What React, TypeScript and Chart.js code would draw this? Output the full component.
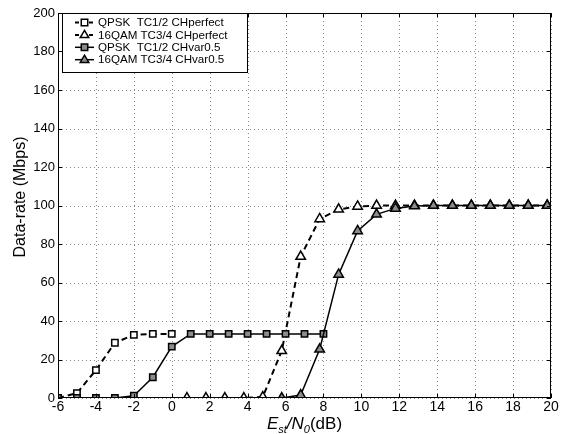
import React, { useEffect, useRef } from "react";
import { Chart, registerables } from "chart.js";

Chart.register(...registerables);

// ---- data ----
const qpskPerfX = [-6, -5, -4, -3, -2, -1, 0];
const qpskPerfY = [0, 2.5, 14.5, 28.7, 32.8, 33.3, 33.3];

const qam16PerfX = [0.8, 1.8, 2.8, 3.8, 4.8, 5.8, 6.8, 7.8, 8.8, 9.8, 10.8, 11.8, 12.8, 13.8, 14.8, 15.8, 16.8, 17.8, 18.8, 19.8];
const qam16PerfY = [0, 0, 0, 0, 0.5, 24.5, 73.5, 93, 98, 99.5, 100, 100, 100, 100, 100, 100, 100, 100, 100, 100];

const qpskVarX = [-6, -5, -4, -3, -2, -1, 0, 1, 2, 3, 4, 5, 6, 7, 8];
const qpskVarY = [0, 0, 0, 0, 1.2, 10.8, 26.7, 33.3, 33.3, 33.3, 33.3, 33.3, 33.3, 33.3, 33.3];

const qam16VarX = [5.8, 6.8, 7.8, 8.8, 9.8, 10.8, 11.8, 12.8, 13.8, 14.8, 15.8, 16.8, 17.8, 18.8, 19.8];
const qam16VarY = [0, 1.5, 25.3, 64.2, 86.8, 95.4, 98.5, 99.7, 100, 100, 100, 100, 100, 100, 100];

const seriesNames = [
  "QPSK  TC1/2 CHperfect",
  "16QAM TC3/4 CHperfect",
  "QPSK  TC1/2 CHvar0.5",
  "16QAM TC3/4 CHvar0.5",
];

const xTicks = [-6, -4, -2, 0, 2, 4, 6, 8, 10, 12, 14, 16, 18, 20];
const yTicks = [0, 20, 40, 60, 80, 100, 120, 140, 160, 180, 200];

const FONT = "'Liberation Sans', Arial, sans-serif";
const GRAY = "#8c8c8c";

const zip = (xs: number[], ys: number[]) => xs.map((x, i) => ({ x, y: ys[i] }));

const styles = [
  { dash: [6, 4], width: 2, marker: "rect", fill: "#ffffff", radius: 4.5 },
  { dash: [6, 4], width: 2, marker: "triangle", fill: "#ffffff", radius: 5.5 },
  { dash: [], width: 1.5, marker: "rect", fill: GRAY, radius: 4.5 },
  { dash: [], width: 1.5, marker: "triangle", fill: GRAY, radius: 5.5 },
];

function drawMarker(ctx: CanvasRenderingContext2D, type: string, x: number, y: number, r: number, fill: string) {
  ctx.save();
  ctx.setLineDash([]);
  ctx.lineWidth = 1.5;
  ctx.strokeStyle = "#000";
  ctx.fillStyle = fill;
  ctx.beginPath();
  if (type === "rect") {
    const s = r * 0.9;
    ctx.rect(x - s, y - s, 2 * s, 2 * s);
  } else {
    ctx.moveTo(x, y - r);
    ctx.lineTo(x + r * 0.95, y + r * 0.6);
    ctx.lineTo(x - r * 0.95, y + r * 0.6);
    ctx.closePath();
  }
  ctx.fill();
  ctx.stroke();
  ctx.restore();
}

const gridPlugin = {
  id: "dottedGrid",
  beforeDatasetsDraw(chart: any) {
    const { ctx, chartArea } = chart;
    const { left, right, top, bottom } = chartArea;
    const xs = chart.scales.x;
    const ys = chart.scales.y;
    ctx.save();
    ctx.strokeStyle = "#888";
    ctx.lineWidth = 1;
    ctx.setLineDash([1, 3]);
    ctx.beginPath();
    xTicks.forEach((t) => {
      const px = Math.round(xs.getPixelForValue(t)) + 0.5;
      ctx.moveTo(px, top);
      ctx.lineTo(px, bottom);
    });
    yTicks.forEach((t) => {
      const py = Math.round(ys.getPixelForValue(t)) + 0.5;
      ctx.moveTo(left, py);
      ctx.lineTo(right, py);
    });
    ctx.stroke();
    ctx.restore();
  },
};

const framePlugin = {
  id: "frameAndExtras",
  afterDraw(chart: any) {
    const { ctx, chartArea } = chart;
    const { left, right, top, bottom } = chartArea;
    const xs = chart.scales.x;
    const ys = chart.scales.y;
    ctx.save();
    ctx.setLineDash([]);
    ctx.strokeStyle = "#000";
    ctx.lineWidth = 1;
    ctx.strokeRect(left + 0.5, top + 0.5, right - left - 1, bottom - top - 1);
    // inward tick marks
    const tl = 4;
    ctx.beginPath();
    xTicks.forEach((t) => {
      const px = Math.round(xs.getPixelForValue(t)) + 0.5;
      ctx.moveTo(px, bottom);
      ctx.lineTo(px, bottom - tl);
      ctx.moveTo(px, top);
      ctx.lineTo(px, top + tl);
    });
    yTicks.forEach((t) => {
      const py = Math.round(ys.getPixelForValue(t)) + 0.5;
      ctx.moveTo(left, py);
      ctx.lineTo(left + tl, py);
      ctx.moveTo(right, py);
      ctx.lineTo(right - tl, py);
    });
    ctx.stroke();

    // tick labels
    ctx.fillStyle = "#000";
    ctx.font = `14px ${FONT}`;
    ctx.textAlign = "center";
    ctx.textBaseline = "top";
    xTicks.forEach((t) => {
      ctx.fillText(String(t), xs.getPixelForValue(t), bottom + 2);
    });
    ctx.font = `13px ${FONT}`;
    ctx.textAlign = "right";
    ctx.textBaseline = "middle";
    yTicks.forEach((t) => {
      ctx.fillText(String(t), left - 3, ys.getPixelForValue(t));
    });

    // legend box
    const bx = left + 4;
    const by = top;
    const bw = 185;
    const bh = 59;
    ctx.fillStyle = "#fff";
    ctx.fillRect(bx, by, bw, bh);
    ctx.strokeStyle = "#000";
    ctx.lineWidth = 1;
    ctx.strokeRect(bx + 0.5, by + 0.5, bw, bh);
    ctx.font = `11.6px ${FONT}`;
    ctx.textBaseline = "middle";
    ctx.textAlign = "left";
    seriesNames.forEach((name, i) => {
      const st = styles[i];
      const rowY = by + 9.5 + i * 12.4;
      ctx.save();
      ctx.strokeStyle = "#000";
      ctx.lineWidth = st.width;
      ctx.setLineDash(st.dash.length ? [4, 3] : []);
      ctx.beginPath();
      ctx.moveTo(bx + 13, rowY);
      ctx.lineTo(bx + 32, rowY);
      ctx.stroke();
      ctx.restore();
      drawMarker(ctx, st.marker, bx + 22.5, rowY, st.marker === "rect" ? 3.6 : 4.5, st.fill);
      ctx.fillStyle = "#000";
      ctx.fillText(name, bx + 36, rowY + 0.5);
    });

    // x-axis title with subscripts
    const cx = (left + right) / 2;
    const baseY = 429;
    const parts = [
      { t: "E", f: `italic 17px ${FONT}`, dy: 0 },
      { t: "st", f: `italic 11px ${FONT}`, dy: 4 },
      { t: "/N", f: `italic 17px ${FONT}`, dy: 0 },
      { t: "0", f: `italic 11px ${FONT}`, dy: 4 },
      { t: "(dB)", f: `17px ${FONT}`, dy: 0 },
    ];
    let total = 0;
    parts.forEach((p) => {
      ctx.font = p.f;
      total += ctx.measureText(p.t).width;
    });
    let x = cx - total / 2;
    ctx.textAlign = "left";
    ctx.textBaseline = "alphabetic";
    ctx.fillStyle = "#000";
    parts.forEach((p) => {
      ctx.font = p.f;
      ctx.fillText(p.t, x, baseY + p.dy);
      x += ctx.measureText(p.t).width;
    });

    // y-axis title
    ctx.save();
    ctx.translate(21, 197);
    ctx.rotate(-Math.PI / 2);
    ctx.font = `16px ${FONT}`;
    ctx.textAlign = "center";
    ctx.textBaseline = "middle";
    ctx.fillText("Data-rate (Mbps)", 0, 0);
    ctx.restore();
    ctx.restore();
  },
};

function makeDataset(i: number, xs: number[], ys: number[], order: number) {
  const st = styles[i];
  return {
    label: seriesNames[i],
    data: zip(xs, ys),
    borderColor: "#000",
    borderWidth: st.width,
    borderDash: st.dash,
    pointStyle: st.marker === "rect" ? "rect" : "triangle",
    pointRadius: st.radius,
    pointBackgroundColor: st.fill,
    pointBorderColor: "#000",
    pointBorderWidth: 1.5,
    fill: false,
    tension: 0,
    order,
  };
}

export default function App() {
  const ref = useRef<HTMLCanvasElement | null>(null);
  useEffect(() => {
    if (!ref.current) return;
    const chart = new Chart(ref.current, {
      type: "line",
      data: {
        datasets: [
          makeDataset(0, qpskPerfX, qpskPerfY, 3),
          makeDataset(1, qam16PerfX, qam16PerfY, 4),
          makeDataset(2, qpskVarX, qpskVarY, 2),
          makeDataset(3, qam16VarX, qam16VarY, 1),
        ] as any,
      },
      options: {
        animation: false,
        responsive: true,
        maintainAspectRatio: false,
        layout: { padding: { top: 13, right: 13, left: 0, bottom: 0 } },
        plugins: {
          legend: { display: false },
          tooltip: { enabled: false },
        },
        scales: {
          x: {
            type: "linear",
            min: -6,
            max: 20,
            afterBuildTicks: (s: any) => {
              s.ticks = xTicks.map((v) => ({ value: v }));
            },
            afterFit: (s: any) => {
              s.height = 36;
            },
            grid: { display: false, drawTicks: false },
            border: { display: false },
            ticks: { display: false },
          },
          y: {
            type: "linear",
            min: 0,
            max: 200,
            afterBuildTicks: (s: any) => {
              s.ticks = yTicks.map((v) => ({ value: v }));
            },
            afterFit: (s: any) => {
              s.width = 58;
            },
            grid: { display: false, drawTicks: false },
            border: { display: false },
            ticks: { display: false },
          },
        },
      } as any,
      plugins: [gridPlugin, framePlugin],
    });
    return () => chart.destroy();
  }, []);
  return (
    <div style={{ position: "fixed", left: 0, top: 0, width: 564, height: 434, background: "#fff" }}>
      <canvas ref={ref} />
    </div>
  );
}
